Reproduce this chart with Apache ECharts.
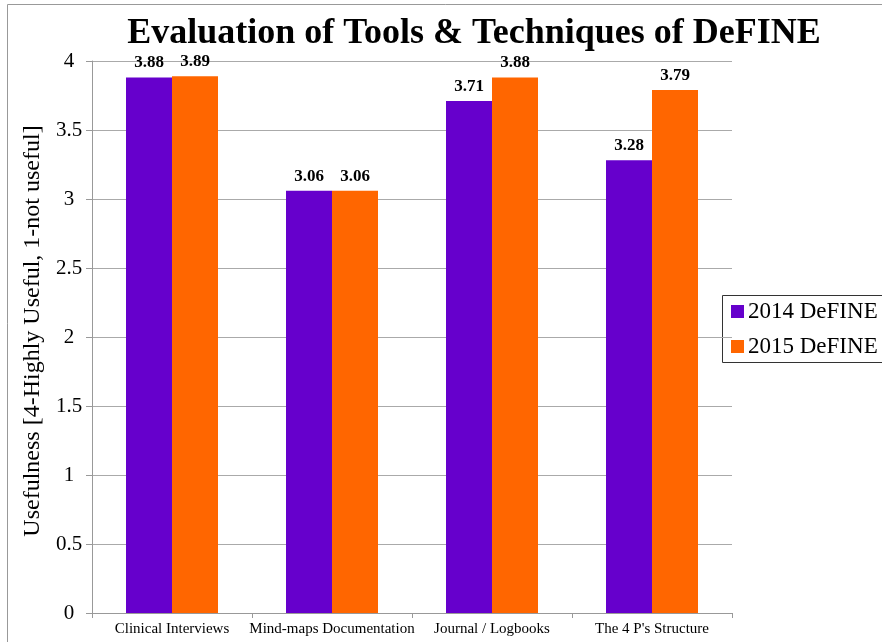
<!DOCTYPE html>
<html><head><meta charset="utf-8">
<script src="https://cdn.jsdelivr.net/npm/echarts@6/dist/echarts.min.js"></script>
<style>html,body{margin:0;padding:0;background:#fff}#c{width:882px;height:642px}</style>
</head><body><div id="c"></div>
<script>
const categories = ['Clinical Interviews', 'Mind-maps Documentation', 'Journal / Logbooks', "The 4 P's Structure"];
const series2014 = [3.88, 3.06, 3.71, 3.28];
const series2015 = [3.89, 3.06, 3.88, 3.79];
const yTicks = [0, 0.5, 1, 1.5, 2, 2.5, 3, 3.5, 4];
const seriesNames = ['2014 DeFINE', '2015 DeFINE'];

const chart = echarts.init(document.getElementById('c'));
const F = '"Liberation Serif","Times New Roman",serif';
const lbl = {show: true, position: 'top', distance: 6, fontFamily: F, fontWeight: 'bold', fontSize: 17, color: '#000', formatter: p => p.value.toFixed(2)};
chart.setOption({
  animation: false,
  graphic: [
    {type: 'rect', shape: {x: 7.5, y: 4.5, width: 900, height: 660}, style: {fill: 'none', stroke: '#999', lineWidth: 1}, silent: true},
    {type: 'rect', shape: {x: 722.5, y: 295.5, width: 180, height: 67}, style: {fill: 'none', stroke: '#333', lineWidth: 1}, silent: true}
  ],
  title: {text: 'Evaluation of Tools & Techniques of DeFINE', left: 469, top: 11, textAlign: 'center',
    textStyle: {fontFamily: F, fontWeight: 'bold', fontSize: 36, color: '#000'}},
  legend: {data: seriesNames, orient: 'vertical', left: 726, top: 295, itemWidth: 13, itemHeight: 13, itemGap: 12,
    textStyle: {fontFamily: F, fontSize: 23, color: '#000', padding: [0, 0, 0, -1]}, icon: 'rect'},
  grid: {left: 92, right: 150, top: 61, bottom: 29, containLabel: false},
  xAxis: {type: 'category', data: categories,
    axisLine: {lineStyle: {color: '#999'}}, axisTick: {show: true, length: 5, lineStyle: {color: '#999'}},
    axisLabel: {fontFamily: F, fontSize: 15, color: '#000', margin: 9, interval: 0}},
  yAxis: {type: 'value', min: 0, max: 4, interval: 0.5,
    name: 'Usefulness [4-Highly Useful, 1-not useful]', nameLocation: 'middle', nameGap: 44,
    nameTextStyle: {fontFamily: F, fontSize: 24, color: '#000', padding: [0, 0, 0, 12]},
    axisLine: {show: true, lineStyle: {color: '#999'}}, axisTick: {show: true, length: 6, lineStyle: {color: '#999'}},
    splitLine: {lineStyle: {color: '#aaa'}},
    axisLabel: {fontFamily: F, fontSize: 21, color: '#000', margin: 23, align: 'center', formatter: v => yTicks.includes(v) ? String(v) : ''}},
  series: [
    {name: seriesNames[0], type: 'bar', data: series2014, barGap: '0%', barCategoryGap: '42.5%', itemStyle: {color: '#6600CC'}, label: lbl},
    {name: seriesNames[1], type: 'bar', data: series2015, itemStyle: {color: '#FF6600'}, label: lbl}
  ]
});
</script></body></html>
